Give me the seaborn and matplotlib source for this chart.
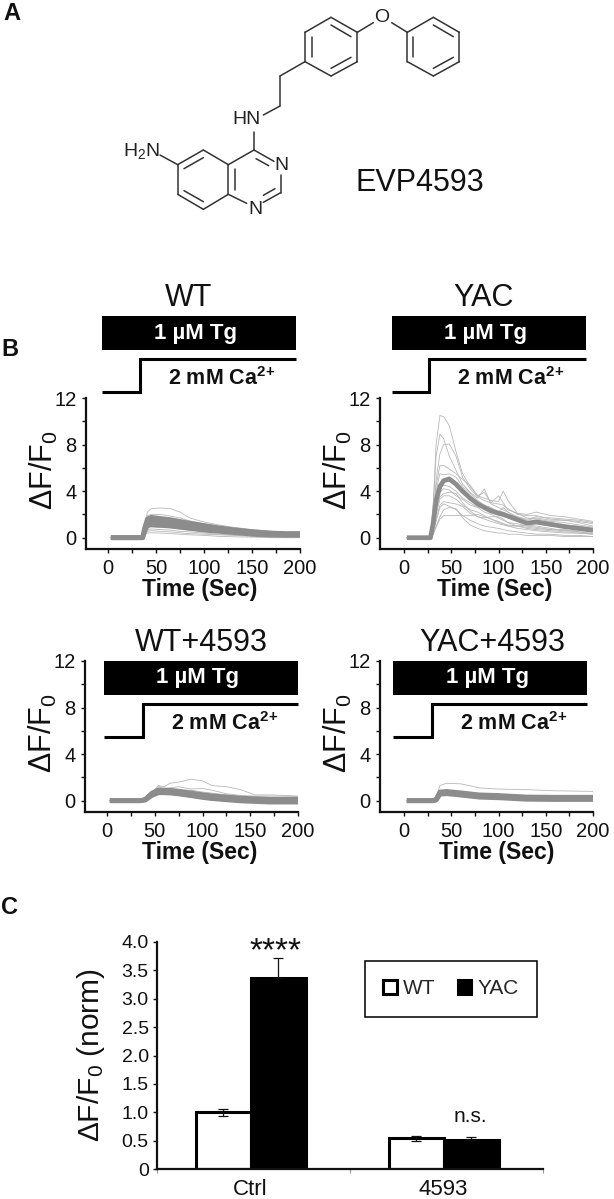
import pandas as pd
import seaborn as sns
import matplotlib.pyplot as plt
from matplotlib.patches import Rectangle

sns.set_theme(style="ticks")
plt.rcParams['font.family'] = ['Liberation Sans', 'DejaVu Sans']
plt.rcParams['mathtext.fontset'] = 'custom'
plt.rcParams['mathtext.rm'] = 'Liberation Sans'
plt.rcParams['mathtext.it'] = 'Liberation Sans:italic'
plt.rcParams['mathtext.bf'] = 'Liberation Sans:bold'
plt.rcParams['mathtext.default'] = 'regular'

INK = '#111111'
THIN = '#b8b8b8'
THICK = '#8c8c8c'

#### traces
wt_time = [3, 36, 38, 41, 45, 55, 65, 75, 85, 100, 115, 130, 150, 170, 185, 200]
wt_mean = [0, 0, 0.6, 1.3, 1.4, 1.35, 1.25, 1.1, 1.0, 0.85, 0.7, 0.55, 0.42, 0.32, 0.28, 0.28]
wt_core = [
    [0, 0, 0.8, 1.6, 1.75, 1.65, 1.55, 1.4, 1.25, 1.05, 0.85, 0.7, 0.52, 0.4, 0.36, 0.36],
    [0, 0, 0.5, 1.05, 1.1, 1.05, 1.0, 0.9, 0.8, 0.65, 0.55, 0.45, 0.3, 0.22, 0.2, 0.2],
]
wt_cells = [
    [0, 0, 1.0, 2.2, 2.5, 2.55, 2.5, 2.2, 1.7, 1.35, 1.1, 0.9, 0.7, 0.55, 0.5, 0.5],
    [0, 0, 1.0, 1.9, 2.0, 2.0, 1.85, 1.7, 1.45, 1.2, 1.0, 0.85, 0.65, 0.5, 0.45, 0.45],
    [0, 0, 1.0, 1.7, 1.85, 1.7, 1.55, 1.4, 1.25, 1.05, 0.9, 0.75, 0.6, 0.45, 0.4, 0.4],
    [0, 0, 0.8, 1.5, 1.6, 1.6, 1.45, 1.3, 1.15, 1.0, 0.85, 0.7, 0.52, 0.4, 0.35, 0.35],
    [0, 0, 0.7, 1.4, 1.5, 1.5, 1.4, 1.25, 1.1, 0.95, 0.75, 0.6, 0.48, 0.38, 0.32, 0.32],
    [0, 0, 0.6, 1.2, 1.25, 1.2, 1.1, 1.0, 0.9, 0.75, 0.6, 0.5, 0.38, 0.3, 0.25, 0.25],
    [0, 0, 0.5, 1.0, 1.15, 1.1, 1.0, 0.9, 0.8, 0.65, 0.55, 0.45, 0.33, 0.25, 0.2, 0.2],
    [0, 0, 0.4, 0.85, 0.95, 0.9, 0.85, 0.75, 0.65, 0.55, 0.45, 0.35, 0.27, 0.2, 0.18, 0.18],
    [0, 0, 0.35, 0.7, 0.75, 0.7, 0.65, 0.55, 0.5, 0.4, 0.3, 0.25, 0.18, 0.12, 0.1, 0.1],
    [0, 0, 0.2, 0.4, 0.42, 0.4, 0.35, 0.3, 0.25, 0.2, 0.12, 0.08, 0.05, 0.0, 0.0, 0.0],
    [0, 0, 0.3, 0.55, 0.6, 0.55, 0.5, 0.42, 0.35, 0.3, 0.25, 0.2, 0.12, 0.08, 0.05, 0.05],
]

yac_time = [3, 28, 31, 34, 38, 42, 48, 55, 62, 70, 78, 85, 92, 100, 105, 110, 120, 130, 140, 155, 170, 185, 200]
yac_mean = [0, 0, 1.3, 3.2, 4.4, 4.9, 5.05, 4.6, 4.0, 3.4, 2.9, 2.6, 2.3, 2.1, 2.0, 1.85, 1.55, 1.25, 1.35, 1.15, 0.95, 0.8, 0.65]
yac_core = []
yac_cells = [
    [0, 0, 3.0, 8.0, 10.5, 10.4, 9.6, 7.4, 5.5, 4.4, 3.6, 3.9, 3.0, 2.9, 2.8, 2.5, 2.0, 1.9, 1.9, 1.6, 1.5, 1.4, 1.2],
    [0, 0, 3.0, 7.0, 8.9, 8.5, 7.0, 5.8, 4.6, 3.9, 3.4, 4.2, 2.9, 2.6, 2.4, 2.2, 1.8, 1.5, 1.7, 1.5, 1.5, 1.3, 1.0],
    [0, 0, 2.0, 5.0, 7.2, 8.0, 8.05, 7.0, 5.2, 4.2, 3.5, 3.2, 3.0, 3.6, 3.0, 2.4, 2.1, 2.0, 2.2, 1.9, 1.8, 1.6, 1.4],
    [0, 0, 2.0, 4.5, 6.2, 6.2, 5.9, 5.5, 5.0, 4.5, 3.6, 3.4, 3.2, 3.1, 4.0, 3.2, 2.1, 1.7, 1.6, 1.4, 1.3, 1.1, 0.9],
    [0, 0, 1.5, 4.0, 5.5, 5.4, 5.5, 5.2, 4.4, 3.8, 3.2, 2.8, 2.6, 2.2, 2.6, 2.2, 1.6, 1.3, 1.5, 1.3, 1.1, 1.0, 0.8],
    [0, 0, 1.3, 3.0, 4.5, 4.8, 4.8, 4.6, 4.2, 3.4, 2.9, 2.4, 2.2, 2.0, 1.9, 1.7, 1.4, 1.2, 1.2, 1.0, 0.9, 0.7, 0.6],
    [0, 0, 1.0, 2.5, 3.9, 4.2, 4.1, 3.6, 3.3, 2.8, 2.6, 2.2, 2.0, 1.7, 1.5, 1.3, 1.0, 0.9, 0.8, 0.7, 0.6, 0.5, 0.4],
    [0, 0, 0.8, 2.0, 3.3, 3.6, 3.6, 3.3, 2.8, 2.4, 2.2, 1.9, 1.6, 1.4, 1.2, 1.0, 0.8, 0.7, 0.6, 0.5, 0.4, 0.4, 0.3],
    [0, 0, 0.6, 1.7, 2.8, 3.1, 3.0, 2.9, 2.7, 2.1, 1.8, 1.7, 1.8, 1.8, 1.6, 1.3, 1.2, 1.0, 0.9, 0.7, 0.7, 0.5, 0.3],
    [0, 0, 0.5, 1.4, 2.6, 2.9, 2.7, 2.4, 1.9, 1.5, 1.2, 1.0, 0.9, 0.8, 0.7, 0.6, 0.5, 0.4, 0.3, 0.3, 0.2, 0.2, 0.1],
    [0, 0, 0.3, 1.0, 1.8, 2.4, 2.6, 2.5, 1.7, 1.1, 0.8, 0.6, 0.5, 0.4, 0.4, 0.3, 0.3, 0.2, 0.2, 0.2, 0.1, 0.1, 0.1],
    [0, 0, 0.3, 0.9, 1.6, 1.9, 1.9, 1.9, 1.9, 1.9, 2.0, 1.8, 1.6, 1.3, 1.2, 1.1, 1.0, 0.8, 0.7, 0.6, 0.5, 0.4, 0.3],
    [0, 0, 1.2, 2.8, 4.2, 4.5, 4.4, 4.0, 3.4, 3.0, 2.6, 2.7, 2.5, 2.3, 2.2, 2.0, 1.8, 1.6, 1.8, 1.7, 1.6, 1.5, 1.3],
    [0, 0, 1.0, 2.3, 3.5, 3.8, 3.9, 3.8, 3.0, 2.3, 1.8, 1.6, 1.4, 1.2, 1.1, 1.0, 1.0, 1.1, 1.0, 0.8, 0.6, 0.6, 0.5],
]

wtd_time = [3, 35, 40, 47, 54, 60, 66, 75, 88, 100, 110, 125, 140, 155, 170, 185, 200]
wtd_mean = [0, 0, 0.1, 0.55, 0.8, 0.8, 0.78, 0.7, 0.55, 0.4, 0.3, 0.2, 0.1, 0.05, 0.0, 0.0, 0.0]
wtd_core = [
    [0, 0, 0.1, 0.65, 0.92, 0.92, 0.9, 0.82, 0.67, 0.52, 0.42, 0.32, 0.22, 0.17, 0.12, 0.12, 0.12],
    [0, 0, 0.05, 0.45, 0.68, 0.68, 0.66, 0.58, 0.43, 0.28, 0.18, 0.08, -0.02, -0.07, -0.12, -0.12, -0.12],
]
wtd_cells = [
    [0, 0, 0.1, 0.7, 1.3, 1.2, 1.5, 1.6, 1.85, 1.7, 1.3, 1.2, 0.95, 0.5, 0.5, 0.45, 0.4],
    [0, 0, 0.1, 0.8, 1.1, 1.0, 1.1, 1.2, 1.0, 1.05, 0.9, 0.6, 0.45, 0.4, 0.4, 0.4, 0.35],
    [0, 0, 0.1, 0.7, 1.3, 0.9, 0.95, 0.9, 0.9, 0.75, 0.65, 0.5, 0.4, 0.35, 0.3, 0.3, 0.3],
    [0, 0, 0.1, 0.6, 0.95, 0.9, 0.85, 0.8, 0.7, 0.55, 0.45, 0.3, 0.25, 0.2, 0.2, 0.2, 0.2],
    [0, 0, 0.1, 0.5, 0.7, 0.7, 0.65, 0.55, 0.4, 0.3, 0.15, 0.05, 0.0, -0.05, -0.1, -0.1, -0.1],
    [0, 0, 0.05, 0.4, 0.6, 0.6, 0.55, 0.45, 0.3, 0.15, 0.05, -0.05, -0.1, -0.15, -0.2, -0.2, -0.2],
]

yacd_time = [3, 30, 34, 38, 45, 60, 80, 100, 130, 160, 200]
yacd_mean = [0, 0, 0.1, 0.65, 0.7, 0.58, 0.4, 0.35, 0.22, 0.2, 0.2]
yacd_core = [
    [0, 0, 0.1, 0.75, 0.8, 0.68, 0.5, 0.45, 0.32, 0.3, 0.3],
    [0, 0, 0.05, 0.55, 0.6, 0.48, 0.3, 0.25, 0.12, 0.1, 0.1],
]
yacd_cells = [
    [0, 0, 0.2, 1.3, 1.5, 1.45, 1.1, 1.0, 0.95, 0.85, 0.8],
    [0, 0, 0.1, 0.85, 0.9, 0.75, 0.55, 0.45, 0.35, 0.3, 0.3],
    [0, 0, 0.1, 0.55, 0.6, 0.45, 0.3, 0.25, 0.15, 0.1, 0.1],
]

#### panel C
groups = ['Ctrl', '4593']
genotypes = ['WT', 'YAC']
bar_wt = [1.0, 0.54]
bar_yac = [3.37, 0.51]
err_wt = [0.06, 0.05]
err_yac = [0.35, 0.06]

fig = plt.figure(figsize=(6.14, 11.99), dpi=100)
W, H = 614., 1199.


def px_axes(left, top, right, bottom):
    return fig.add_axes([left / W, 1 - bottom / H, (right - left) / W, (bottom - top) / H])


def long_form(time, cells):
    rows = []
    for c, vals in enumerate(cells):
        rows.append(pd.DataFrame({'time': time, 'dff': vals, 'cell': c}))
    return pd.concat(rows)


def trace_panel(box, x_zero, label_x, time, cells, core, mean):
    left, top, right, bottom = box
    ax = px_axes(left, top, right, bottom)
    scale = (right - x_zero) / 200.
    sns.lineplot(data=long_form(time, cells), x='time', y='dff', units='cell', estimator=None,
                 color=THIN, lw=0.6, ax=ax)
    sns.lineplot(data=long_form(time, core + [mean]), x='time', y='dff', units='cell', estimator=None,
                 color=THICK, lw=3.4, ax=ax, solid_capstyle='butt')
    ax.set_xlim(-(x_zero - left) / scale, 200)
    ax.set_ylim(-0.97, 12)
    ax.set_xticks([0, 50, 100, 150, 200])
    ax.set_xticks([25, 75, 125, 175], minor=True)
    ax.set_yticks([0, 4, 8, 12])
    ax.set_yticks([2, 6, 10], minor=True)
    ax.tick_params(axis='both', which='major', labelsize=14.5, length=3, width=1, color=INK,
                   labelcolor=INK, pad=4)
    ax.tick_params(axis='both', which='minor', length=3, width=1, color=INK)
    ax.set_xlabel('Time (Sec)', fontsize=16.5, fontweight='bold', color=INK)
    ax.xaxis.set_label_coords((label_x - left) / (right - left), -0.19)
    ax.set_ylabel('ΔF/F$_0$', fontsize=22, color=INK)
    ax.yaxis.set_label_coords(-0.12, 0.52)
    sns.despine(ax=ax)
    for s in ['left', 'bottom']:
        ax.spines[s].set_linewidth(1.6)
        ax.spines[s].set_color(INK)
    ax.patch.set_alpha(0)
    return ax


trace_panel((86, 398, 300, 549), 108, 200, wt_time, wt_cells, wt_core, wt_mean)
trace_panel((380, 398, 593, 549), 404, 495, yac_time, yac_cells, yac_core, yac_mean)
trace_panel((85, 661, 298, 812), 107, 200, wtd_time, wtd_cells, wtd_core, wtd_mean)
trace_panel((380, 661, 593, 812), 404, 497, yacd_time, yacd_cells, yacd_core, yacd_mean)

#### bars
bars = pd.DataFrame({'group': groups * 2, 'genotype': ['WT', 'WT', 'YAC', 'YAC'],
                     'value': bar_wt + bar_yac})
ax_c = px_axes(157, 942, 543, 1169)
sns.barplot(data=bars, x='group', y='value', hue='genotype', order=groups, hue_order=genotypes,
            palette={'WT': 'white', 'YAC': 'black'}, edgecolor='black', linewidth=2.2,
            width=0.57, gap=0, saturation=1, ax=ax_c)
for cont, errs, lower in zip(ax_c.containers, [err_wt, err_yac], [err_wt, [0, 0]]):
    xs = [p.get_x() + p.get_width() / 2 for p in cont.patches]
    ys = [p.get_height() for p in cont.patches]
    ax_c.errorbar(xs, ys, yerr=[lower, errs], fmt='none', ecolor=INK, elinewidth=0.9, capsize=3.5, capthick=0.9)
ax_c.set_xlim(-0.485, 1.515)
ax_c.set_ylim(0, 4)
ax_c.set_yticks([0, 0.5, 1, 1.5, 2, 2.5, 3, 3.5, 4])
ax_c.set_yticklabels(['0', '0.5', '1.0', '1.5', '2.0', '2.5', '3.0', '3.5', '4.0'])
ax_c.set_xticks([-0.485, 0.515, 1.515], minor=True)
ax_c.tick_params(axis='x', which='major', length=0, labelsize=16, pad=7, labelcolor=INK)
ax_c.tick_params(axis='x', which='minor', length=3, width=0.8, color='#999999')
ax_c.tick_params(axis='y', length=3, width=1, labelsize=14, color=INK, labelcolor=INK, pad=3)
ax_c.set_xlabel('')
ax_c.set_ylabel('ΔF/F$_0$ (norm)', fontsize=21.5, color=INK)
ax_c.yaxis.set_label_coords(-0.13, 0.5)
sns.despine(ax=ax_c)
for s in ['left', 'bottom']:
    ax_c.spines[s].set_linewidth(1.6)
    ax_c.spines[s].set_color(INK)
ax_c.patch.set_alpha(0)
handles, labels = ax_c.get_legend_handles_labels()
leg = ax_c.legend(handles, labels, ncol=2, loc='center', bbox_to_anchor=((451 - 157) / 386., (1169 - 989) / 227.),
                  frameon=True, fancybox=False, edgecolor=INK, framealpha=1, fontsize=15,
                  handlelength=0.65, handleheight=0.65, handletextpad=0.3, columnspacing=1.05,
                  borderpad=0.9)
leg.get_frame().set_linewidth(1.2)

ax_c.text(0.13, 3.82, '****', ha='center', va='center', fontsize=24, color=INK, clip_on=False)
ax_c.text(1.14, 0.92, 'n.s.', ha='center', va='center', fontsize=15, color=INK)

#### overlay in pixel coordinates: diagram, drug bars, titles, letters
ov = fig.add_axes([0, 0, 1, 1], zorder=10)
ov.set_xlim(0, W)
ov.set_ylim(H, 0)
ov.axis('off')

for (x, y, letter) in [(12, 14, 'A'), (10, 350, 'B'), (10, 908, 'C')]:
    ov.text(x, y, letter, ha='center', va='center', fontsize=17, fontweight='bold', color=INK)

for (x, y, title) in [(189, 298, 'WT'), (484, 298, 'YAC'), (201, 643, 'WT+4593'), (492, 643, 'YAC+4593')]:
    ov.text(x, y, title, ha='center', va='center', fontsize=22, color=INK)

for (x0, y0, step) in [(102, 316, 140), (392, 316, 429), (104, 661, 143), (393, 661, 432)]:
    x1 = x0 + 194
    ov.add_patch(Rectangle((x0, y0), 194, 34, color='black', lw=0))
    ov.text(x0 + 94, y0 + 17, '1 µM Tg', ha='center', va='center', fontsize=16, fontweight='bold', color='white')
    ov.plot([x0, step, step, x1], [y0 + 76, y0 + 76, y0 + 43, y0 + 43], color='black', lw=2.2,
            solid_joinstyle='miter', solid_capstyle='butt')
    ov.text(step + 82, y0 + 63, r'2 mM Ca$^{\mathbf{2\!+}}$', ha='center', va='center', fontsize=15.5,
            fontweight='bold', color=INK)

#### molecule, bond ends in zoomed px (3x)
bonds = [
    (1300, 52, 1378, 97), (1378, 97, 1378, 185), (1378, 185, 1300, 228), (1300, 228, 1222, 185),
    (1222, 185, 1222, 97), (1222, 97, 1300, 52), (1240, 110, 1240, 172), (1300, 75, 1360, 110),
    (1300, 205, 1360, 172),
    (993, 52, 1072, 97), (1072, 97, 1072, 185), (1072, 185, 993, 228), (993, 228, 915, 185),
    (915, 185, 915, 97), (915, 97, 993, 52), (935, 110, 935, 172), (993, 75, 1053, 110),
    (993, 205, 1053, 172),
    (1072, 97, 1120, 68), (1175, 68, 1222, 97),
    (915, 185, 840, 228), (840, 228, 840, 318), (840, 318, 790, 345),
    (762, 395, 762, 450), (762, 450, 822, 484), (768, 476, 806, 497), (842, 525, 842, 578),
    (842, 578, 790, 607), (825, 566, 790, 586), (740, 610, 685, 583), (685, 583, 685, 494),
    (705, 570, 705, 507), (685, 494, 762, 450), (685, 494, 610, 450), (610, 450, 533, 494),
    (610, 473, 552, 506), (533, 494, 533, 583), (533, 583, 610, 628), (552, 572, 610, 605),
    (610, 628, 685, 583), (480, 465, 533, 494),
]
for b in bonds:
    ov.plot([b[0] / 3., b[2] / 3.], [b[1] / 3., b[3] / 3.], color='#333333', lw=1.1, solid_capstyle='round')
for (x, y, s) in [(382, 17, 'O'), (247, 120, 'HN'), (281, 166, 'N'), (255, 210, 'N'), (141, 151, 'H$_2$N')]:
    ov.text(x, y, s, ha='center', va='center', fontsize=14, color='#222222')
ov.text(355, 183, 'EVP4593', ha='left', va='center', fontsize=22, color=INK)

fig.savefig('out.png', dpi=100)
